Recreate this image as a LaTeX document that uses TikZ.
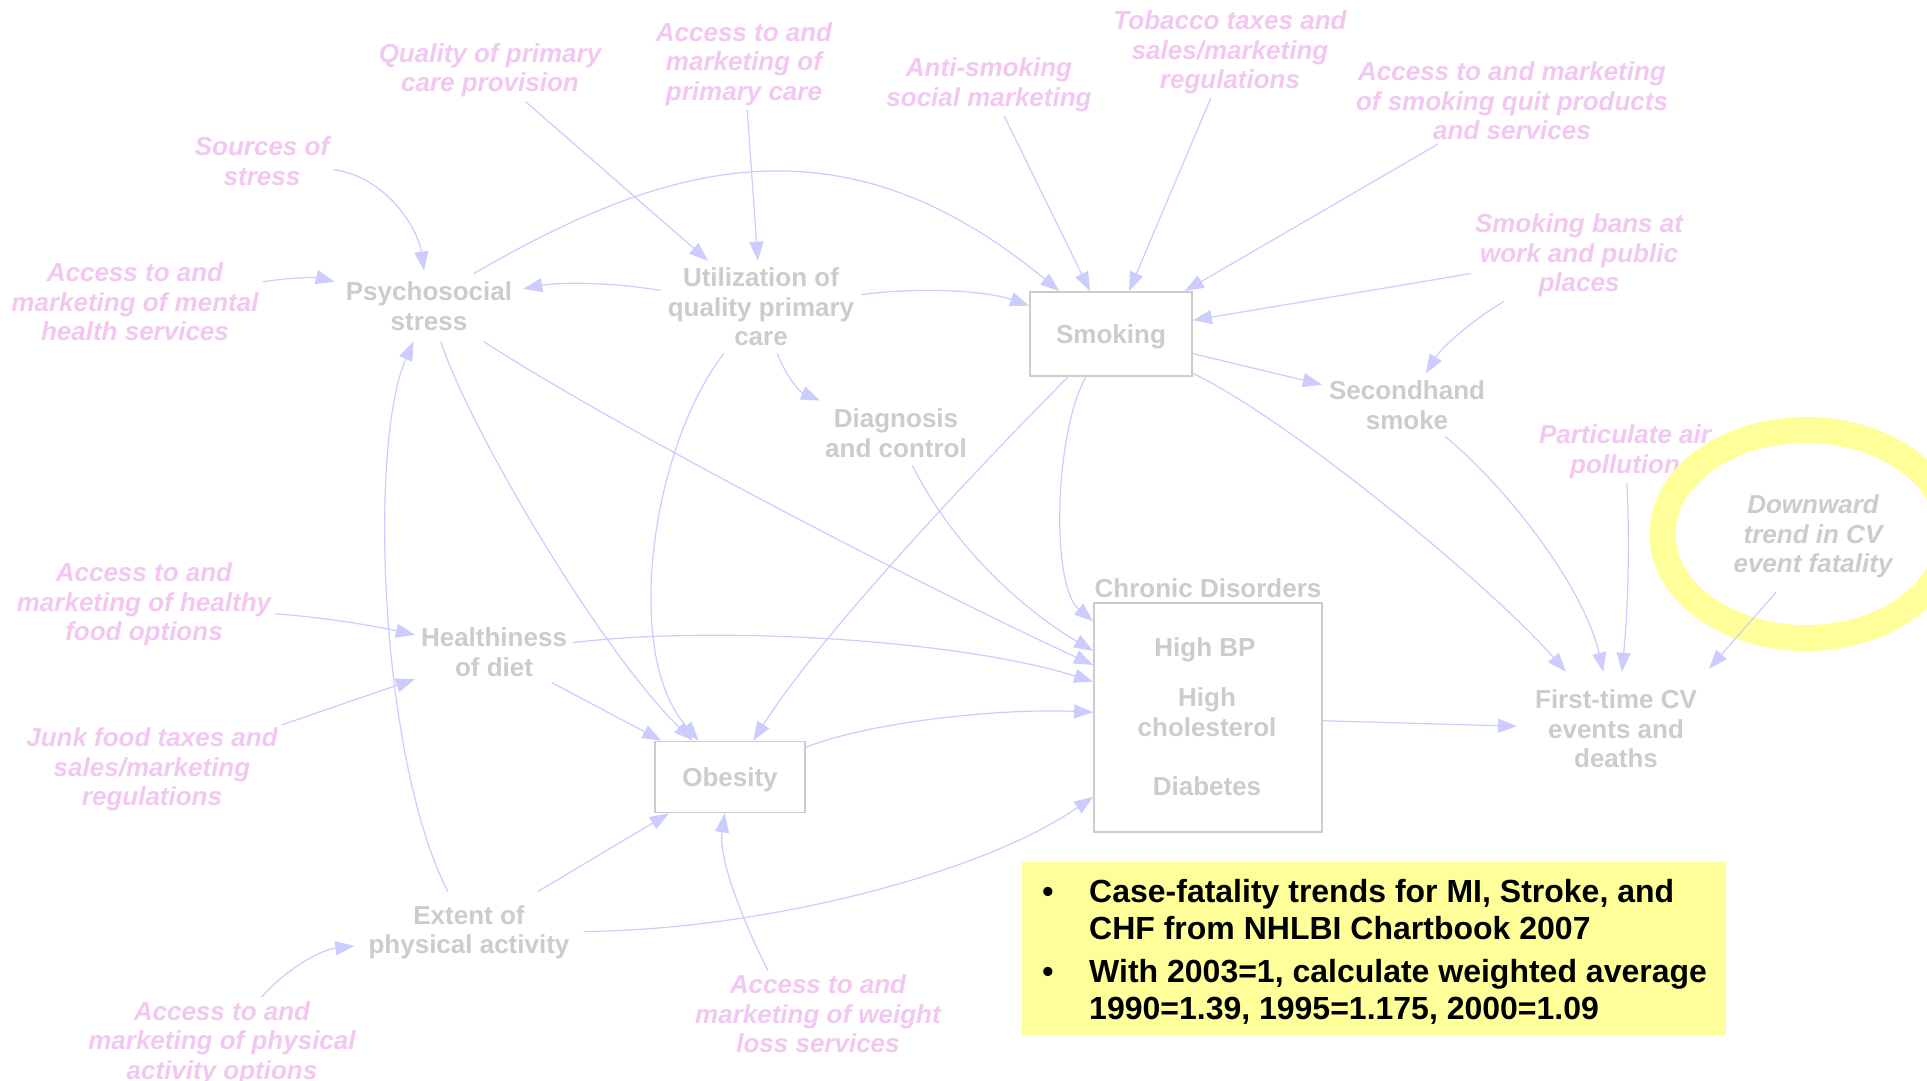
\documentclass[tikz,border=0pt]{standalone}
\usepackage{fontspec}
\setmainfont{Liberation Sans}
\usetikzlibrary{arrows.meta}
\definecolor{vargray}{RGB}{204,204,204}
\definecolor{extpink}{RGB}{242,200,242}
\definecolor{linkblue}{RGB}{204,204,255}
\definecolor{noteyellow}{RGB}{255,255,153}

\tikzset{
  var/.style={text=vargray, font=\fontsize{26}{29.5}\selectfont\bfseries, align=center, inner sep=8pt},
  ext/.style={text=extpink, font=\fontsize{26}{29.5}\selectfont\bfseries\itshape, align=center, inner sep=4pt},
  stockbox/.style={draw=vargray, line width=1.8pt, text=vargray, font=\fontsize{26}{29.5}\selectfont\bfseries, inner sep=0pt, text depth=0pt},
  link/.style={draw=linkblue, line width=1.2pt, -{Triangle[length=19pt,width=14pt]}},
  notetext/.style={text=black, font=\fontsize{32}{37}\selectfont\bfseries, align=left, inner sep=0pt},
  ring/.style={draw=noteyellow, line width=26pt},
}

\begin{document}
\begin{tikzpicture}[x=1pt,y=-1pt]
\useasboundingbox (0,0) rectangle (1927,1081);
\clip (0,0) rectangle (1927,1081);
\fill[white] (0,0) rectangle (1927,1081);

% exogenous influences
\node[ext] (qual)    at (490,70.5)  {Quality of primary\\care provision};
\node[ext] (sources) at (262,161)   {Sources of\\stress};
\node[ext] (mental)  at (135,302)   {Access to and\\marketing of mental\\health services};
\node[ext] (accprim) at (744,64)    {Access to and\\marketing of\\primary care};
\node[ext] (anti)    at (989,85)    {Anti-smoking\\social marketing};
\node[ext] (tobacco) at (1230,52.5) {Tobacco taxes and\\sales/marketing\\regulations};
\node[ext] (quit)    at (1512,101)  {Access to and marketing\\of smoking quit products\\and services};
\node[ext] (bans)    at (1579,255.5){Smoking bans at\\work and public\\places};
\node[ext] (partic)  at (1625,452)  {Particulate air\\pollution};
\node[ext] (foodopt) at (144,604.5) {Access to and\\marketing of healthy\\food options};
\node[ext] (junk)    at (152,769.5) {Junk food taxes and\\sales/marketing\\regulations};
\node[ext] (physopt) at (222,1043)  {Access to and\\marketing of physical\\activity options};
\node[ext] (weight)  at (818,1014)  {Access to and\\marketing of weight\\loss services};

% model variables
\node[var, inner sep=11pt] (psych)  at (429,306) {Psychosocial\\stress};
\node[var, inner sep=7pt]  (util)   at (761,307) {Utilization of\\quality primary\\care};
\node[var]                 (diag)   at (896,433) {Diagnosis\\and control};
\node[var, inner sep=7pt]  (second) at (1407,405) {Secondhand\\smoke};
\node[var, inner sep=6pt]  (health) at (494,652) {Healthiness\\of diet};
\node[var, inner sep=14pt] (extent) at (469,932.5) {Extent of\\physical activity};
\node[var, inner sep=18pt] (first)  at (1616,729) {First-time CV\\events and\\deaths};

% stocks
\node[stockbox, minimum width=162pt, minimum height=84pt] (smoking) at (1111,334) {Smoking};
\node[stockbox, minimum width=150pt, minimum height=71pt] (obesity) at (730,777) {Obesity};
\node[stockbox, minimum width=228pt, minimum height=229pt] (chronic) at (1208,717.5) {};
\node[var, inner sep=0pt] (chroniclabel) at (1208,588) {Chronic Disorders};
\node[var, inner sep=0pt] (highbp) at (1205,649.5) {High BP};
\node[var, inner sep=0pt] (highchol) at (1207,712) {High\\cholesterol};
\node[var, inner sep=0pt] (diabetes) at (1207,786) {Diabetes};

% highlighted fatality trend
\draw[ring] (1806,534) ellipse [x radius=143.5pt, y radius=104pt];
\node[var, font=\fontsize{26}{29.5}\selectfont\bfseries\itshape, inner sep=12pt] (downward) at (1813,536.5) {Downward\\trend in CV\\event fatality};

% note box
\node[fill=noteyellow, minimum width=704pt, minimum height=173pt, anchor=north west, inner sep=0pt] (note) at (1022,862) {};
\node[notetext, anchor=base] (bul1) at (1048,902.5) {•};
\node[notetext, anchor=base] (bul2) at (1048,982.5) {•};
\node[notetext, anchor=west] (note1) at (1089,909.5) {Case-fatality trends for MI, Stroke, and\\CHF from NHLBI Chartbook 2007};
\node[notetext, anchor=west] (note2) at (1089,992) {With 2003=1, calculate weighted average\\1990=1.39, 1995=1.175, 2000=1.09};

% causal links
\draw[link] (qual) -- (util);
\draw[link] (accprim) -- (util);
\draw[link] (sources) .. controls (385,176) and (418,228) .. (psych);
\draw[link] (mental) .. controls (300,276) and (320,278) .. (psych);
\draw[link] (util) .. controls (610,282) and (560,282) .. (psych);
\draw[link] ([xshift=45pt,yshift=-3pt]psych.north) .. controls (669,160) and (844,113) .. (smoking);
\draw[link] (util) .. controls (930,286) and (990,292) .. (smoking);
\draw[link] (anti) -- (smoking);
\draw[link] (tobacco) -- (smoking);
\draw[link] (quit) -- (smoking);
\draw[link] (bans) -- (smoking);
\draw[link] (bans) .. controls (1465,325) and (1440,350) .. (second);
\draw[link] (smoking) -- (second);
\draw[link] (smoking) .. controls (1290,420) and (1490,585) .. (first);
\draw[link] (second) .. controls (1510,490) and (1585,590) .. (first);
\draw[link] (partic) .. controls (1630,540) and (1628,610) .. (first);
\draw[link] ([xshift=-37pt,yshift=-2pt]downward.south) -- ([xshift=93pt,yshift=3pt]first.north);
\draw[link] (chronic) -- (first);
\draw[link] (util) .. controls (785,375) and (800,392) .. (diag);
\draw[link] (util) .. controls (655,440) and (620,650) .. (obesity);
\draw[link] (psych) .. controls (470,430) and (600,650) .. (obesity);
\draw[link] (psych) .. controls (620,430) and (930,590) .. (chronic);
\draw[link] (diag) .. controls (960,560) and (1040,620) .. (chronic);
\draw[link] (smoking) .. controls (1055,430) and (1050,585) .. (chronic);
\draw[link] (smoking) .. controls (1020,425) and (830,620) .. (obesity);
\draw[link] (health) .. controls (720,625) and (960,640) .. (chronic);
\draw[link] (health) -- (obesity);
\draw[link] (obesity) .. controls (870,722) and (1000,708) .. (chronic);
\draw[link] (extent) -- (obesity);
\draw[link] (extent) .. controls (380,760) and (368,445) .. (psych);
\draw[link] (extent) .. controls (760,930) and (980,875) .. (chronic);
\draw[link] (physopt) .. controls (285,970) and (320,950) .. (extent);
\draw[link] ([xshift=-50pt]weight.north) .. controls (745,925) and (718,860) .. (obesity);
\draw[link] (foodopt) .. controls (320,617) and (370,625) .. (health);
\draw[link] (junk) -- (health);
\end{tikzpicture}
\end{document}
